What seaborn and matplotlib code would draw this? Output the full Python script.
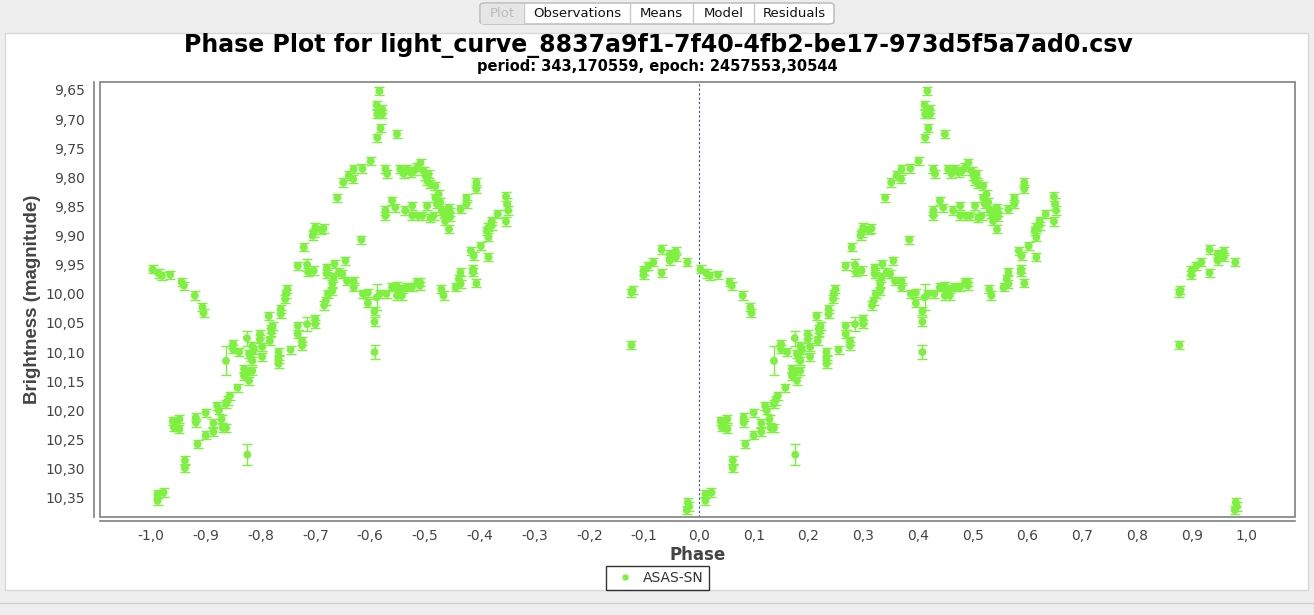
import matplotlib
matplotlib.use("Agg")
import matplotlib.pyplot as plt
from matplotlib.patches import Rectangle, FancyBboxPatch
import numpy as np
import pandas as pd
import seaborn as sns

# ---------------- data (phase in [0,1), magnitude, error) ----------------
phase = [
    0.003, 0.014, 0.020, 0.035, 0.056, 0.060, 0.080, 0.094, 0.096,
    0.012, 0.012, 0.023, 0.040, 0.042, 0.052, 0.052, 0.046, 0.062, 0.062,
    0.082, 0.082, 0.085, 0.100, 0.100, 0.114, 0.114, 0.121, 0.124, 0.129,
    0.131, 0.137, 0.137, 0.137, 0.140, 0.144, 0.150, 0.150, 0.161, 0.158,
    0.170, 0.170, 0.176, 0.175, 0.176, 0.179, 0.182, 0.185, 0.185, 0.188,
    0.179, 0.185, 0.199, 0.199, 0.203, 0.203, 0.215, 0.217, 0.219, 0.222,
    0.220, 0.233, 0.233, 0.233, 0.237, 0.237, 0.245, 0.249, 0.246, 0.255,
    0.268, 0.268, 0.268, 0.276, 0.276, 0.279, 0.285, 0.287, 0.285, 0.295,
    0.297, 0.300, 0.300, 0.300, 0.297, 0.315, 0.310, 0.321, 0.321, 0.335,
    0.343, 0.349, 0.355, 0.333, 0.331, 0.331, 0.358, 0.370, 0.370, 0.323,
    0.319, 0.316, 0.340, 0.351, 0.361, 0.369, 0.370, 0.386, 0.401, 0.384,
    0.387, 0.396, 0.396, 0.408, 0.408, 0.408, 0.412, 0.418, 0.430, 0.440,
    0.449, 0.452, 0.458, 0.467, 0.449, 0.458, 0.486, 0.476, 0.491, 0.491,
    0.530, 0.534, 0.556, 0.562, 0.565, 0.565, 0.588, 0.588, 0.594, 0.584,
    0.589, 0.602, 0.613, 0.616, 0.616, 0.622, 0.622, 0.616, 0.633, 0.648,
    0.650, 0.652, 0.648, 0.594, 0.594, 0.576, 0.576, 0.565, 0.544, 0.546,
    0.546, 0.544, 0.531, 0.534, 0.537, 0.519, 0.525, 0.528, 0.522, 0.510,
    0.516, 0.504, 0.495, 0.477, 0.477, 0.464, 0.488, 0.440, 0.446, 0.428,
    0.428, 0.492, 0.486, 0.480, 0.498, 0.501, 0.507, 0.504, 0.510, 0.519,
    0.455, 0.461, 0.467, 0.474, 0.428, 0.431, 0.449, 0.417, 0.412, 0.413,
    0.422, 0.422, 0.419, 0.413, 0.877, 0.879, 0.877, 0.899, 0.899, 0.908,
    0.917, 0.932, 0.932, 0.947, 0.947, 0.958, 0.958, 0.979, 0.980, 0.982,
    0.978,
]
magnitude = [
    9.958, 9.965, 9.969, 9.967, 9.980, 9.986, 10.003, 10.023, 10.033,
    10.344, 10.355, 10.341, 10.218, 10.229, 10.215, 10.232, 10.222, 10.286, 10.299,
    10.212, 10.221, 10.258, 10.204, 10.243, 10.222, 10.237, 10.192, 10.200, 10.215,
    10.230, 10.230, 10.115, 10.189, 10.183, 10.175, 10.086, 10.095, 10.100, 10.161,
    10.129, 10.141, 10.135, 10.076, 10.276, 10.103, 10.109, 10.115, 10.090, 10.096,
    10.149, 10.132, 10.069, 10.078, 10.091, 10.108, 10.038, 10.081, 10.060, 10.055,
    10.066, 10.100, 10.112, 10.120, 10.026, 10.035, 10.009, 9.992, 10.000, 10.096,
    9.952, 10.055, 10.069, 10.081, 10.089, 9.920, 9.950, 9.963, 10.052, 9.900,
    9.960, 10.043, 10.052, 9.886, 9.895, 9.888, 9.890, 9.955, 9.966, 9.949,
    9.963, 9.966, 9.943, 9.972, 9.983, 9.995, 9.978, 9.978, 9.989, 10.000,
    10.012, 10.020, 9.835, 9.809, 9.797, 9.803, 9.786, 9.785, 9.772, 9.907,
    10.000, 9.998, 10.016, 10.030, 10.048, 10.100, 10.006, 10.000, 10.000, 9.989,
    9.986, 9.995, 9.992, 9.989, 10.003, 10.003, 9.980, 9.989, 9.980, 9.986,
    9.992, 10.003, 9.989, 9.975, 9.963, 9.983, 9.958, 9.963, 9.982, 9.926,
    9.935, 9.918, 9.892, 9.886, 9.903, 9.875, 9.883, 9.937, 9.863, 9.833,
    9.846, 9.857, 9.876, 9.809, 9.820, 9.835, 9.846, 9.855, 9.852, 9.860,
    9.868, 9.889, 9.857, 9.863, 9.875, 9.835, 9.829, 9.843, 9.846, 9.870,
    9.866, 9.849, 9.866, 9.849, 9.866, 9.857, 9.866, 9.840, 9.852, 9.857,
    9.866, 9.775, 9.783, 9.789, 9.789, 9.797, 9.794, 9.806, 9.812, 9.815,
    9.786, 9.794, 9.786, 9.792, 9.786, 9.794, 9.726, 9.652, 9.676, 9.692,
    9.683, 9.692, 9.716, 9.732, 9.998, 9.994, 10.088, 9.960, 9.968, 9.952,
    9.946, 9.924, 9.964, 9.932, 9.943, 9.927, 9.937, 9.946, 10.358, 10.365,
    10.371,
]
# larger uncertainties for a few observations; all others use the default
default_error = 0.007
large_errors = {31: 0.025, 42: 0.013, 43: 0.018, 75: 0.010, 77: 0.012,
                113: 0.008, 114: 0.012, 115: 0.022, 149: 0.010, 152: 0.008}

series_name = "ASAS-SN"
title_text = "Phase Plot for light_curve_8837a9f1-7f40-4fb2-be17-973d5f5a7ad0.csv"
subtitle_text = "period: 343,170559, epoch: 2457553,30544"
x_ticks = [round(-1.0 + 0.1 * i, 1) for i in range(21)]
y_ticks = [round(9.65 + 0.05 * i, 2) for i in range(15)]
tab_labels = ["Plot", "Observations", "Means", "Model", "Residuals"]

errors = [large_errors.get(i, default_error) for i in range(len(phase))]
base = pd.DataFrame({"phase": phase, "mag": magnitude, "err": errors})
shifted = base.copy()
shifted["phase"] = shifted["phase"] - 1.0
df = pd.concat([shifted, base], ignore_index=True)
df["series"] = series_name

# ---------------- figure ----------------
W, H = 1314, 615
sns.set_style("white")
plt.rcParams["font.family"] = ["DejaVu Sans"]

fig = plt.figure(figsize=(W / 100, H / 100), dpi=100)
fig.patch.set_facecolor("#EEEEEE")

def fx(x):
    return x / W

def fy(y):
    return 1 - y / H

# white panel (behind everything)
fig.patches.append(Rectangle((fx(5), fy(590)), fx(1303), (590 - 33) / H,
                             transform=fig.transFigure, facecolor="white",
                             edgecolor="#D8D8D8", lw=1, zorder=-10))
fig.lines.append(plt.Line2D([0, 1], [fy(603), fy(603)], transform=fig.transFigure,
                            color="#CFCFCF", lw=1, zorder=-10))

# tab bar
tab_edges = [480, 524, 630, 693, 754, 834]
fig.patches.append(FancyBboxPatch((fx(480), fy(24)), fx(354), 21 / H,
                                  boxstyle="round,pad=0,rounding_size=0.004",
                                  transform=fig.transFigure, facecolor="white",
                                  edgecolor="#B5B5B5", lw=1, zorder=-5))
fig.patches.append(Rectangle((fx(481), fy(23.5)), fx(43), 20 / H,
                             transform=fig.transFigure, facecolor="#E6E6E6",
                             edgecolor="none", zorder=-4))
for xe in tab_edges[1:-1]:
    fig.lines.append(plt.Line2D([fx(xe), fx(xe)], [fy(24), fy(3)],
                                transform=fig.transFigure, color="#C8C8C8", lw=1,
                                zorder=-4))
for i, lab in enumerate(tab_labels):
    cx = (tab_edges[i] + tab_edges[i + 1]) / 2
    fig.text(fx(cx), fy(13.5), lab, ha="center", va="center", fontsize=9.5,
             family=["DejaVu Sans"], color="#BBBBBB" if i == 0 else "#111111")

# titles
fig.text(fx(658), fy(46), title_text, ha="center", va="center",
         fontsize=17, fontweight="bold", family=["DejaVu Sans"], color="black")
fig.text(fx(657), fy(66), subtitle_text, ha="center", va="center",
         fontsize=10.5, fontweight="bold", family=["DejaVu Sans"], color="black")

# axes
ax = fig.add_axes([fx(100), fy(517), (1295 - 100) / W, (517 - 82.3) / H])
ax.set_facecolor("white")
green = "#7DF040"

ax.errorbar(df["phase"], df["mag"], yerr=df["err"], fmt="none", ecolor=green,
            elinewidth=1.0, capsize=3.3, capthick=1.0, zorder=2)
sns.scatterplot(data=df, x="phase", y="mag", hue="series", palette=[green],
                s=32, edgecolor="none", linewidth=0, ax=ax, zorder=3, legend=True)

ax.axvline(0.0, color="#3048C0", lw=0.8, ls=(0, (2, 2)), zorder=1)

ax.set_xlim(-1.093, 1.088)
ax.set_ylim(10.383, 9.637)

ax.set_xticks(x_ticks)
ax.set_xticklabels([f"{v:.1f}".replace(".", ",") for v in x_ticks])
ax.set_yticks(y_ticks)
ax.set_yticklabels([f"{v:.2f}".replace(".", ",") for v in y_ticks])
ax.tick_params(axis="both", direction="out", length=4, width=1, color="#808080",
               labelsize=10, labelcolor="#444444", pad=3)
ax.tick_params(axis="x", pad=1.5)

for s in ["top", "right"]:
    ax.spines[s].set_visible(False)
ax.spines["left"].set_position(("outward", 4))
ax.spines["bottom"].set_position(("outward", 3))
for s in ["left", "bottom"]:
    ax.spines[s].set_color("#808080")
    ax.spines[s].set_linewidth(1.2)
ax.add_patch(Rectangle((0, 0), 1, 1, transform=ax.transAxes, fill=False,
                       edgecolor="#808080", lw=1.2, zorder=5, clip_on=False))

ax.set_xlabel("Phase", fontsize=12, fontweight="bold", color="#444444", labelpad=2)
ax.set_ylabel("Brightness (magnitude)", fontsize=13.5, fontweight="bold",
              color="#444444", family=["Liberation Sans"], labelpad=3)

leg = ax.legend(loc="center", bbox_to_anchor=(fx(657.5), fy(578)),
                bbox_transform=fig.transFigure, frameon=True, fancybox=False,
                edgecolor="black", fontsize=10, handletextpad=0.3,
                borderpad=0.35, markerscale=0.8, title=None)
leg.get_frame().set_linewidth(1.0)
for t in leg.get_texts():
    t.set_color("#333333")

fig.savefig("out.png", dpi=100, facecolor=fig.get_facecolor())
